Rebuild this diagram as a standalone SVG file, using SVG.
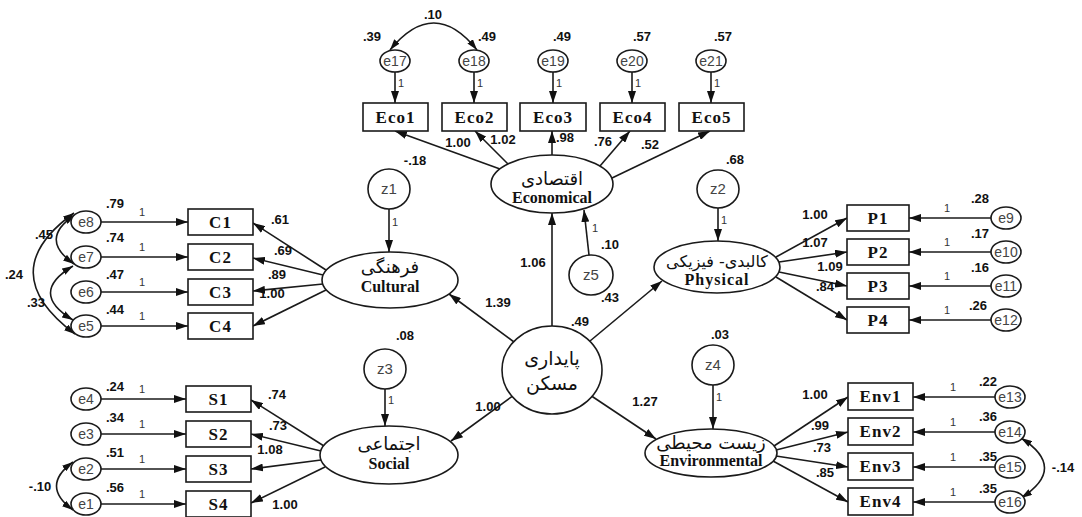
<svg xmlns="http://www.w3.org/2000/svg" width="1082" height="517" viewBox="0 0 1082 517">
<style>
.bg{fill:#fff}
.ln{stroke:#1a1a1a;stroke-width:1.6;fill:none}
.arr{marker-end:url(#ah)}
.cov{stroke:#1a1a1a;stroke-width:1.6;fill:none;marker-start:url(#ch);marker-end:url(#ch)}
.box{fill:#fff;stroke:#1a1a1a;stroke-width:1.6}
.ov{fill:#fff;stroke:#1a1a1a;stroke-width:1.6}
.bt{font-family:"Liberation Serif",serif;font-weight:bold;font-size:17px;fill:#111;text-anchor:middle;letter-spacing:1px}
.lt{font-family:"Liberation Serif",serif;font-weight:bold;font-size:16px;fill:#111;text-anchor:middle}
.fa{font-family:"DejaVu Sans","Noto Sans",sans-serif;font-size:18px;fill:#111;text-anchor:middle}
.et{font-family:"Liberation Sans",Arial,sans-serif;font-size:14px;fill:#444;text-anchor:middle}
.num{font-family:"Liberation Sans",Arial,sans-serif;font-weight:bold;font-size:13px;fill:#111;text-anchor:middle}
.one{font-family:"Liberation Sans",Arial,sans-serif;font-size:11px;fill:#333;text-anchor:middle}
</style>
<defs>
<marker id="ah" viewBox="0 0 12 8" refX="12" refY="4" markerWidth="12" markerHeight="8" orient="auto" markerUnits="userSpaceOnUse"><path d="M0,0 L12,4 L0,8 z" fill="#111"/></marker>
<marker id="ch" viewBox="0 0 11 7" refX="11" refY="3.5" markerWidth="11" markerHeight="7" orient="auto-start-reverse" markerUnits="userSpaceOnUse"><path d="M0,0 L11,3.5 L0,7 z" fill="#111"/></marker>
</defs>
<rect class="bg" x="0" y="0" width="1082" height="517"/>

<g id="connectors">
<line class="ln arr" x1="552" y1="326" x2="552" y2="213"/>
<line class="ln arr" x1="514" y1="342" x2="449" y2="294"/>
<line class="ln arr" x1="590" y1="341" x2="662" y2="281"/>
<line class="ln arr" x1="514" y1="395" x2="451" y2="441"/>
<line class="ln arr" x1="590" y1="395" x2="656" y2="439"/>
<line class="ln arr" x1="389" y1="209" x2="389" y2="252"/>
<line class="ln arr" x1="718" y1="208" x2="718" y2="241"/>
<line class="ln arr" x1="385" y1="389" x2="385" y2="426"/>
<line class="ln arr" x1="713" y1="385" x2="713" y2="429"/>
<line class="ln arr" x1="589" y1="255" x2="584" y2="210"/>
<line class="ln arr" x1="500" y1="169" x2="395" y2="131"/>
<line class="ln arr" x1="508" y1="164" x2="475" y2="131"/>
<line class="ln arr" x1="552" y1="155" x2="552" y2="131"/>
<line class="ln arr" x1="600" y1="166" x2="630" y2="131"/>
<line class="ln arr" x1="612" y1="178" x2="710" y2="131"/>
<line class="ln arr" x1="395" y1="72" x2="395" y2="103"/>
<line class="ln arr" x1="474" y1="72" x2="474" y2="103"/>
<line class="ln arr" x1="553" y1="72" x2="553" y2="103"/>
<line class="ln arr" x1="632" y1="72" x2="632" y2="103"/>
<line class="ln arr" x1="711" y1="72" x2="711" y2="103"/>
<path class="cov" d="M390,50 Q434,-4 477,50"/>
<line class="ln arr" x1="326" y1="270" x2="253" y2="223"/>
<line class="ln arr" x1="323" y1="275" x2="253" y2="258"/>
<line class="ln arr" x1="323" y1="284" x2="253" y2="291"/>
<line class="ln arr" x1="326" y1="290" x2="253" y2="326"/>
<line class="ln arr" x1="101" y1="222" x2="188" y2="222"/>
<line class="ln arr" x1="101" y1="257" x2="188" y2="257"/>
<line class="ln arr" x1="101" y1="292" x2="188" y2="292"/>
<line class="ln arr" x1="101" y1="326" x2="188" y2="326"/>
<path class="cov" d="M75,215 Q38,239 74,264"/>
<path class="cov" d="M74,213 Q-8,272 75,334"/>
<path class="cov" d="M73,266 Q28,293 73,320"/>
<line class="ln arr" x1="776" y1="257" x2="847" y2="218"/>
<line class="ln arr" x1="779" y1="262" x2="847" y2="252"/>
<line class="ln arr" x1="779" y1="272" x2="847" y2="286"/>
<line class="ln arr" x1="776" y1="277" x2="847" y2="320"/>
<line class="ln arr" x1="991" y1="218" x2="909" y2="218"/>
<line class="ln arr" x1="991" y1="252" x2="909" y2="252"/>
<line class="ln arr" x1="991" y1="286" x2="909" y2="286"/>
<line class="ln arr" x1="991" y1="320" x2="909" y2="320"/>
<line class="ln arr" x1="324" y1="446" x2="251" y2="400"/>
<line class="ln arr" x1="321" y1="451" x2="251" y2="434"/>
<line class="ln arr" x1="321" y1="460" x2="251" y2="469"/>
<line class="ln arr" x1="325" y1="467" x2="251" y2="503"/>
<line class="ln arr" x1="101" y1="399" x2="186" y2="399"/>
<line class="ln arr" x1="101" y1="434" x2="186" y2="434"/>
<line class="ln arr" x1="101" y1="469" x2="186" y2="469"/>
<line class="ln arr" x1="101" y1="504" x2="186" y2="504"/>
<path class="cov" d="M73,462 Q40,486 73,510"/>
<line class="ln arr" x1="774" y1="446" x2="848" y2="397"/>
<line class="ln arr" x1="776" y1="450" x2="848" y2="432"/>
<line class="ln arr" x1="776" y1="456" x2="848" y2="467"/>
<line class="ln arr" x1="773" y1="461" x2="848" y2="502"/>
<line class="ln arr" x1="995" y1="397" x2="913" y2="397"/>
<line class="ln arr" x1="995" y1="432" x2="913" y2="432"/>
<line class="ln arr" x1="995" y1="467" x2="913" y2="467"/>
<line class="ln arr" x1="995" y1="502" x2="913" y2="502"/>
<path class="cov" d="M1021,438 Q1068,468 1021,498"/>
</g>

<g id="housing"><ellipse class="ov" cx="552" cy="370" rx="50" ry="44"/><text class="fa" x="552" y="365" style="font-size:19px">پایداری</text><text class="fa" x="552" y="390" style="font-size:19px">مسکن</text></g>
<g id="economical"><ellipse class="ov" cx="552" cy="184" rx="61" ry="29"/><text class="fa" x="552" y="185">اقتصادی</text><text class="lt" x="552" y="203">Economical</text></g>
<g id="cultural"><ellipse class="ov" cx="390" cy="280" rx="68" ry="28"/><text class="fa" x="390" y="273">فرهنگی</text><text class="lt" x="390" y="292">Cultural</text></g>
<g id="physical"><ellipse class="ov" cx="717" cy="267" rx="63" ry="26"/><text class="fa" x="717" y="267" direction="rtl" style="font-size:16px">کالبدی- فیزیکی</text><text class="lt" x="717" y="285" style="letter-spacing:1px">Physical</text></g>
<g id="social"><ellipse class="ov" cx="389" cy="455" rx="69" ry="29"/><text class="fa" x="389" y="450">اجتماعی</text><text class="lt" x="389" y="469">Social</text></g>
<g id="environmental"><ellipse class="ov" cx="711" cy="453" rx="66" ry="24"/><text class="fa" x="711" y="449">زیست محیطی</text><text class="lt" x="711" y="466">Environmental</text></g>

<g id="z1"><ellipse class="ov" cx="389" cy="189" rx="21" ry="20"/><text class="et" x="389" y="194" style="font-size:15px">z1</text></g>
<g id="z2"><ellipse class="ov" cx="718" cy="189" rx="21" ry="19"/><text class="et" x="718" y="194" style="font-size:15px">z2</text></g>
<g id="z3"><ellipse class="ov" cx="385" cy="369" rx="21" ry="20"/><text class="et" x="385" y="374" style="font-size:15px">z3</text></g>
<g id="z4"><ellipse class="ov" cx="713" cy="365" rx="21" ry="20"/><text class="et" x="713" y="370" style="font-size:15px">z4</text></g>
<g id="z5"><ellipse class="ov" cx="591" cy="275" rx="22" ry="20"/><text class="et" x="591" y="280" style="font-size:15px">z5</text></g>

<g id="eco1"><rect class="box" x="363" y="103" width="65" height="28"/><text class="bt" x="395.5" y="123">Eco1</text></g>
<g id="eco2"><rect class="box" x="442" y="103" width="65" height="28"/><text class="bt" x="474.5" y="123">Eco2</text></g>
<g id="eco3"><rect class="box" x="520" y="103" width="66" height="28"/><text class="bt" x="553" y="123">Eco3</text></g>
<g id="eco4"><rect class="box" x="600" y="103" width="65" height="28"/><text class="bt" x="632.5" y="123">Eco4</text></g>
<g id="eco5"><rect class="box" x="679" y="103" width="65" height="28"/><text class="bt" x="711.5" y="123">Eco5</text></g>
<g id="e17"><ellipse class="ov" cx="395" cy="61" rx="15" ry="11"/><text class="et" x="395" y="66">e17</text></g>
<g id="e18"><ellipse class="ov" cx="474" cy="61" rx="15" ry="11"/><text class="et" x="474" y="66">e18</text></g>
<g id="e19"><ellipse class="ov" cx="553" cy="61" rx="15" ry="11"/><text class="et" x="553" y="66">e19</text></g>
<g id="e20"><ellipse class="ov" cx="632" cy="61" rx="15" ry="11"/><text class="et" x="632" y="66">e20</text></g>
<g id="e21"><ellipse class="ov" cx="711" cy="61" rx="15" ry="11"/><text class="et" x="711" y="66">e21</text></g>

<g id="c1"><rect class="box" x="188" y="209" width="65" height="26"/><text class="bt" x="220.5" y="228">C1</text></g>
<g id="c2"><rect class="box" x="188" y="244" width="65" height="26"/><text class="bt" x="220.5" y="263">C2</text></g>
<g id="c3"><rect class="box" x="188" y="279" width="65" height="26"/><text class="bt" x="220.5" y="298">C3</text></g>
<g id="c4"><rect class="box" x="188" y="313" width="65" height="26"/><text class="bt" x="220.5" y="332">C4</text></g>
<g id="e8"><ellipse class="ov" cx="86" cy="222" rx="15" ry="11"/><text class="et" x="86" y="227">e8</text></g>
<g id="e7"><ellipse class="ov" cx="86" cy="257" rx="15" ry="11"/><text class="et" x="86" y="262">e7</text></g>
<g id="e6"><ellipse class="ov" cx="86" cy="292" rx="15" ry="11"/><text class="et" x="86" y="297">e6</text></g>
<g id="e5"><ellipse class="ov" cx="86" cy="326" rx="15" ry="11"/><text class="et" x="86" y="331">e5</text></g>

<g id="p1"><rect class="box" x="847" y="205" width="62" height="26"/><text class="bt" x="878" y="224">P1</text></g>
<g id="p2"><rect class="box" x="847" y="239" width="62" height="26"/><text class="bt" x="878" y="258">P2</text></g>
<g id="p3"><rect class="box" x="847" y="273" width="62" height="26"/><text class="bt" x="878" y="292">P3</text></g>
<g id="p4"><rect class="box" x="847" y="307" width="62" height="26"/><text class="bt" x="878" y="326">P4</text></g>
<g id="e9"><ellipse class="ov" cx="1006" cy="218" rx="15" ry="11"/><text class="et" x="1006" y="223">e9</text></g>
<g id="e10"><ellipse class="ov" cx="1006" cy="252" rx="15" ry="11"/><text class="et" x="1006" y="257">e10</text></g>
<g id="e11"><ellipse class="ov" cx="1006" cy="286" rx="15" ry="11"/><text class="et" x="1006" y="291">e11</text></g>
<g id="e12"><ellipse class="ov" cx="1006" cy="320" rx="15" ry="11"/><text class="et" x="1006" y="325">e12</text></g>

<g id="s1"><rect class="box" x="186" y="386" width="65" height="26"/><text class="bt" x="218.5" y="405">S1</text></g>
<g id="s2"><rect class="box" x="186" y="421" width="65" height="26"/><text class="bt" x="218.5" y="440">S2</text></g>
<g id="s3"><rect class="box" x="186" y="456" width="65" height="26"/><text class="bt" x="218.5" y="475">S3</text></g>
<g id="s4"><rect class="box" x="186" y="491" width="65" height="26"/><text class="bt" x="218.5" y="510">S4</text></g>
<g id="e4"><ellipse class="ov" cx="86" cy="399" rx="15" ry="11"/><text class="et" x="86" y="404">e4</text></g>
<g id="e3"><ellipse class="ov" cx="86" cy="434" rx="15" ry="11"/><text class="et" x="86" y="439">e3</text></g>
<g id="e2"><ellipse class="ov" cx="86" cy="469" rx="15" ry="11"/><text class="et" x="86" y="474">e2</text></g>
<g id="e1"><ellipse class="ov" cx="86" cy="504" rx="15" ry="11"/><text class="et" x="86" y="509">e1</text></g>

<g id="env1"><rect class="box" x="848" y="383" width="65" height="27"/><text class="bt" x="880.5" y="402">Env1</text></g>
<g id="env2"><rect class="box" x="848" y="418" width="65" height="27"/><text class="bt" x="880.5" y="437">Env2</text></g>
<g id="env3"><rect class="box" x="848" y="453" width="65" height="27"/><text class="bt" x="880.5" y="472">Env3</text></g>
<g id="env4"><rect class="box" x="848" y="488" width="65" height="27"/><text class="bt" x="880.5" y="507">Env4</text></g>
<g id="e13"><ellipse class="ov" cx="1010" cy="397" rx="15" ry="11"/><text class="et" x="1010" y="402">e13</text></g>
<g id="e14"><ellipse class="ov" cx="1010" cy="432" rx="15" ry="11"/><text class="et" x="1010" y="437">e14</text></g>
<g id="e15"><ellipse class="ov" cx="1010" cy="467" rx="15" ry="11"/><text class="et" x="1010" y="472">e15</text></g>
<g id="e16"><ellipse class="ov" cx="1010" cy="502" rx="15" ry="11"/><text class="et" x="1010" y="507">e16</text></g>

<g id="labels">
<text class="num" x="433" y="19">.10</text>
<text class="num" x="372" y="41">.39</text>
<text class="num" x="487" y="41">.49</text>
<text class="num" x="562" y="41">.49</text>
<text class="num" x="642" y="41">.57</text>
<text class="num" x="723" y="41">.57</text>
<text class="num" x="458" y="147">1.00</text>
<text class="num" x="503" y="144">1.02</text>
<text class="num" x="565" y="142">.98</text>
<text class="num" x="603" y="146">.76</text>
<text class="num" x="650" y="149">.52</text>
<text class="num" x="415" y="165">-.18</text>
<text class="num" x="735" y="164">.68</text>
<text class="num" x="533" y="267">1.06</text>
<text class="num" x="610" y="249">.10</text>
<text class="num" x="498" y="307">1.39</text>
<text class="num" x="610" y="302">.43</text>
<text class="num" x="580" y="326">.49</text>
<text class="num" x="405" y="340">.08</text>
<text class="num" x="720" y="339">.03</text>
<text class="num" x="488" y="411">1.00</text>
<text class="num" x="645" y="406">1.27</text>
<text class="num" x="280" y="224">.61</text>
<text class="num" x="283" y="255">.69</text>
<text class="num" x="277" y="279">.89</text>
<text class="num" x="272" y="298">1.00</text>
<text class="num" x="115" y="208">.79</text>
<text class="num" x="115" y="242">.74</text>
<text class="num" x="115" y="279">.47</text>
<text class="num" x="115" y="314">.44</text>
<text class="num" x="44" y="239">.45</text>
<text class="num" x="14" y="279">.24</text>
<text class="num" x="36" y="307">.33</text>
<text class="num" x="815" y="219">1.00</text>
<text class="num" x="815" y="247">1.07</text>
<text class="num" x="830" y="271">1.09</text>
<text class="num" x="825" y="291">.84</text>
<text class="num" x="980" y="203">.28</text>
<text class="num" x="980" y="238">.17</text>
<text class="num" x="980" y="272">.16</text>
<text class="num" x="978" y="310">.26</text>
<text class="num" x="277" y="399">.74</text>
<text class="num" x="278" y="430">.73</text>
<text class="num" x="270" y="454">1.08</text>
<text class="num" x="285" y="509">1.00</text>
<text class="num" x="115" y="391">.24</text>
<text class="num" x="115" y="422">.34</text>
<text class="num" x="115" y="457">.51</text>
<text class="num" x="115" y="492">.56</text>
<text class="num" x="40" y="491">-.10</text>
<text class="num" x="815" y="399">1.00</text>
<text class="num" x="820" y="430">.99</text>
<text class="num" x="822" y="452">.73</text>
<text class="num" x="825" y="477">.85</text>
<text class="num" x="988" y="386">.22</text>
<text class="num" x="988" y="421">.36</text>
<text class="num" x="988" y="461">.35</text>
<text class="num" x="988" y="493">.35</text>
<text class="num" x="1063" y="472">-.14</text>
<text class="one" x="401" y="87">1</text>
<text class="one" x="480" y="87">1</text>
<text class="one" x="559" y="87">1</text>
<text class="one" x="638" y="87">1</text>
<text class="one" x="717" y="87">1</text>
<text class="one" x="142" y="216">1</text>
<text class="one" x="142" y="251">1</text>
<text class="one" x="142" y="286">1</text>
<text class="one" x="142" y="320">1</text>
<text class="one" x="947" y="212">1</text>
<text class="one" x="947" y="246">1</text>
<text class="one" x="947" y="280">1</text>
<text class="one" x="947" y="314">1</text>
<text class="one" x="142" y="393">1</text>
<text class="one" x="142" y="428">1</text>
<text class="one" x="142" y="463">1</text>
<text class="one" x="142" y="498">1</text>
<text class="one" x="953" y="391">1</text>
<text class="one" x="953" y="426">1</text>
<text class="one" x="953" y="461">1</text>
<text class="one" x="953" y="496">1</text>
<text class="one" x="395" y="226">1</text>
<text class="one" x="724" y="224">1</text>
<text class="one" x="391" y="404">1</text>
<text class="one" x="719" y="401">1</text>
<text class="one" x="595" y="232">1</text>
</g>
</svg>
